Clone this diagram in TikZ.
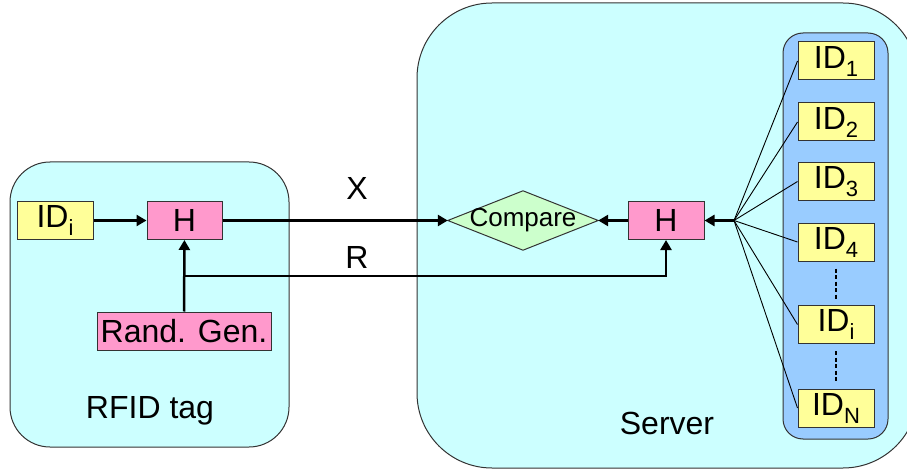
\documentclass[tikz,border=0pt]{standalone}
\usepackage{fontspec}
\setmainfont{Liberation Sans}
\usetikzlibrary{arrows.meta}
\definecolor{bgcyan}{HTML}{CCFFFF}
\definecolor{idblue}{HTML}{99CCFF}
\definecolor{idyellow}{HTML}{FFFF99}
\definecolor{hpink}{HTML}{FF99CC}
\definecolor{cmpgreen}{HTML}{CCFFCC}
\definecolor{edgegray}{HTML}{333333}
\newcommand{\mysub}[1]{\raisebox{-8pt}{\fontsize{22}{22}\selectfont #1}}
\begin{document}
\begin{tikzpicture}[x=1pt,y=-1pt,
  bigfont/.style={font=\fontsize{32}{36}\selectfont},
  idbox/.style={draw=edgegray, line width=1pt, fill=idyellow, minimum width=76pt, minimum height=38pt, inner sep=0pt, bigfont},
  hbox/.style={draw=edgegray, line width=1pt, fill=hpink, minimum height=38pt, inner sep=0pt, bigfont},
  conn/.style={line width=2.5pt, -{Triangle[length=10pt,width=11pt]}},
  thinline/.style={line width=0.9pt},
  dotline/.style={line width=1.6pt, dash pattern=on 4pt off 2.5pt},
  region/.style={draw=edgegray, line width=1pt, fill=bgcyan}
]
\useasboundingbox (0,0) rectangle (907,473);
% regions
\begin{scope}
\clip (0,0) rectangle (907,473);
\draw[region, rounded corners=75pt] (417,3) rectangle (918,468);
\end{scope}
\draw[region, rounded corners=40pt] (10,162) rectangle (289,447);
\draw[draw=edgegray, line width=1pt, fill=idblue, rounded corners=20pt] (783,33) rectangle (888,439);

% tag nodes
\node[idbox] (tid) at (55,220.5) {ID\mysub{i}};
\node[hbox, minimum width=75pt] (th) at (184.5,220.5) {H};
\node[hbox, minimum width=174pt] (rg) at (184,331) {Rand. Gen.};
\node[bigfont] (tagl) at (150,411) {RFID tag};

% server nodes
\node[hbox, minimum width=76pt] (sh) at (666,220.5) {H};
\node[minimum width=150pt, minimum height=59pt, inner sep=0pt] (cmp) at (523,220.5) {};
\draw[draw=edgegray, line width=1pt, fill=cmpgreen] (cmp.west) -- (cmp.north) -- (cmp.east) -- (cmp.south) -- cycle;
\node[font=\fontsize{26}{30}\selectfont] (cmpl) at (cmp.center) {Compare};
\node[bigfont] (servl) at (667,423) {Server};

\node[idbox] (id1) at (836,61) {ID\mysub{1}};
\node[idbox] (id2) at (836,122) {ID\mysub{2}};
\node[idbox] (id3) at (836,181.5) {ID\mysub{3}};
\node[idbox] (id4) at (836,242) {ID\mysub{4}};
\node[idbox] (idi) at (836,324.5) {ID\mysub{i}};
\node[idbox] (idn) at (836,408) {ID\mysub{N}};

\draw[dotline, shorten <=7pt, shorten >=6pt] (id4.south) -- (idi.north);
\draw[dotline, shorten <=7pt, shorten >=6pt] (idi.south) -- (idn.north);

% fan
\coordinate (fan) at (734,220.5);
\foreach \n in {id1,id2,id3,id4,idi,idn} \draw[thinline] (fan) -- (\n.west);

% connectors
\draw[conn] (tid) -- (th);
\draw[conn] (rg) -- (th);
\draw[conn] (th) -- (cmp.west);
\draw[conn] (sh) -- (cmp.east);
\draw[conn] (fan) -- (sh);
\coordinate (rj) at (184.5,276);
\draw[conn] (rj) -| (sh.south);
\node[bigfont] (xl) at (357,188) {X};
\node[bigfont] (rl) at (357,257) {R};
\end{tikzpicture}
\end{document}
